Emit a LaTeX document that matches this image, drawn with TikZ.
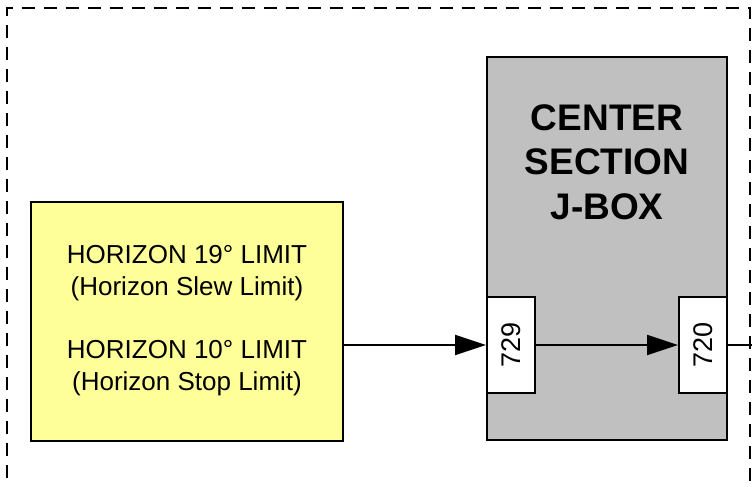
\documentclass[tikz,border=0pt]{standalone}
\usepackage{fontspec}
\setmainfont{Liberation Sans}
\usetikzlibrary{arrows.meta}
\definecolor{yfill}{HTML}{FFFF99}
\definecolor{gfill}{HTML}{C0C0C0}
\begin{document}
\begin{tikzpicture}[x=1pt,y=-1pt,line width=2pt,
  arr/.style={-{Triangle[length=31pt,width=20pt]}},
  ybox/.style={draw,fill=yfill,minimum width=312pt,minimum height=239pt,inner sep=0pt,align=center,font=\fontsize{26}{32}\selectfont},
  gbox/.style={draw,fill=gfill,minimum width=240pt,minimum height=383pt,inner sep=0pt},
  gtitle/.style={align=center,font=\fontsize{37}{44.5}\selectfont\bfseries},
  port/.style={draw,fill=white,minimum width=48pt,minimum height=96pt,inner sep=0pt,font=\fontsize{27}{30}\selectfont},
  border/.style={dash pattern=on 13pt off 9pt}]
\useasboundingbox (0,0) rectangle (752,487);
\draw[border] (7,500) -- (7,8.5) -- (750,8.5) -- (750,500);
\node[ybox] (yb) at (187,321) {HORIZON 19° LIMIT\\(Horizon Slew Limit)\\[31pt]HORIZON 10° LIMIT\\(Horizon Stop Limit)};
\node[gbox] (gb) at (607,248.5) {};
\node[gtitle] (gt) at (607,162) {CENTER\\SECTION\\J-BOX};
\node[port] (p729) at (511,345) {\rotatebox{90}{729}};
\node[port] (p720) at (703,345) {\rotatebox{90}{720}};
\coordinate (rend) at (752,345);
\draw[arr] (yb.east |- p729.west) -- (p729.west);
\draw[arr] (p729.east) -- (p720.west);
\draw (p720.east) -- (rend);
\end{tikzpicture}
\end{document}
